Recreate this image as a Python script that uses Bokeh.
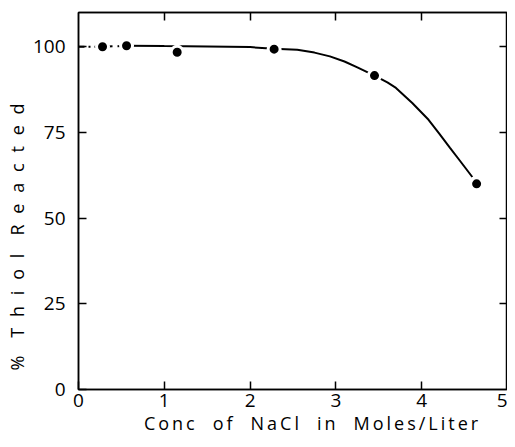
from bokeh.plotting import figure
from bokeh.models import Range1d, LinearAxis, FixedTicker
from bokeh.embed import file_html
from bokeh.resources import INLINE

# data points
conc = [0.28, 0.56, 1.15, 2.28, 3.45, 4.64]
thiol = [100.0, 100.3, 98.4, 99.3, 91.6, 60.0]

# drawn curve
curve_x_dashdot = [0.0, 0.28]
curve_y_dashdot = [100.0, 100.0]
curve_x_dash = [0.28, 0.56]
curve_y_dash = [100.0, 100.3]
curve_x = [0.56, 1.0, 1.5, 2.0, 2.28, 2.55, 2.75, 2.93, 3.1, 3.25, 3.45, 3.6, 3.7,
           3.89, 4.08, 4.2, 4.33, 4.45, 4.59]
curve_y = [100.3, 100.2, 100.1, 99.9, 99.4, 99.1, 98.3, 97.2, 95.7, 94.0, 91.6, 89.6, 88.0,
           83.6, 78.7, 74.8, 70.5, 66.6, 62.0]

x_ticks = [0, 1, 2, 3, 4, 5]
y_ticks = [0, 25, 50, 75, 100]
x_title = "Conc of NaCl in Moles/Liter"
y_title = "% Thiol Reacted"

FONT = "Open Sans"


def tracked(s, letter_sep, word_sep):
    words = s.split(" ")
    return word_sep.join(letter_sep.join(w) for w in words)


p = figure(width=507, height=439, output_backend="svg", toolbar_location=None,
           x_range=Range1d(0, 5), y_range=Range1d(0, 110),
           min_border_left=78, min_border_right=0, min_border_top=12, min_border_bottom=50)
p.grid.visible = False
p.outline_line_color = "black"
p.outline_line_width = 1.5

p.line(curve_x_dashdot, curve_y_dashdot, line_color="black", line_width=2, line_dash="6 4 2 4")
p.line(curve_x_dash, curve_y_dash, line_color="black", line_width=2, line_dash="10 5")
p.line(curve_x, curve_y, line_color="black", line_width=2)
p.scatter(conc, thiol, size=12, fill_color="black", line_color="white", line_width=3)

for ax in [p.xaxis[0], p.yaxis[0]]:
    ax.major_tick_in = 8
    ax.major_tick_out = 0
    ax.minor_tick_in = 0
    ax.minor_tick_out = 0
    ax.axis_line_width = 1.5
    ax.major_tick_line_width = 1.5
    ax.major_label_text_font = FONT
    ax.major_label_text_font_size = "19px"
    ax.major_label_text_color = "black"
    ax.axis_label_text_font = FONT
    ax.axis_label_text_font_style = "normal"
    ax.axis_label_text_font_size = "18px"
    ax.axis_label_text_color = "black"

p.xaxis[0].ticker = FixedTicker(ticks=x_ticks)
p.yaxis[0].ticker = FixedTicker(ticks=y_ticks)
# leading / trailing spaces shift the labels off-centre as in the reference
p.xaxis[0].axis_label = "\u2003\u2003" + tracked(x_title, "\u2009", "\u2003")
p.yaxis[0].axis_label = tracked(y_title, "\u2002\u200a", "\u2003") + "\u2003\u2003\u2003\u2003"
p.xaxis[0].major_label_standoff = 4
p.xaxis[0].axis_label_standoff = 1
p.yaxis[0].major_label_standoff = 13
p.yaxis[0].axis_label_standoff = 1

top = LinearAxis(ticker=FixedTicker(ticks=[1, 2, 3, 4]),
                 major_label_overrides={1: "", 2: "", 3: "", 4: ""},
                 major_tick_in=8, major_tick_out=0, minor_tick_in=0, minor_tick_out=0,
                 major_tick_line_width=1.5, axis_line_width=1.5,
                 major_label_standoff=0, axis_label_standoff=0)
right = LinearAxis(ticker=FixedTicker(ticks=[25, 50, 75, 100]),
                   major_label_overrides={25: "", 50: "", 75: "", 100: ""},
                   major_tick_in=8, major_tick_out=0, minor_tick_in=0, minor_tick_out=0,
                   major_tick_line_width=1.5, axis_line_width=1.5,
                   major_label_standoff=0, axis_label_standoff=0)
p.add_layout(top, "above")
p.add_layout(right, "right")

open("out.html", "w").write(file_html(p, INLINE))
